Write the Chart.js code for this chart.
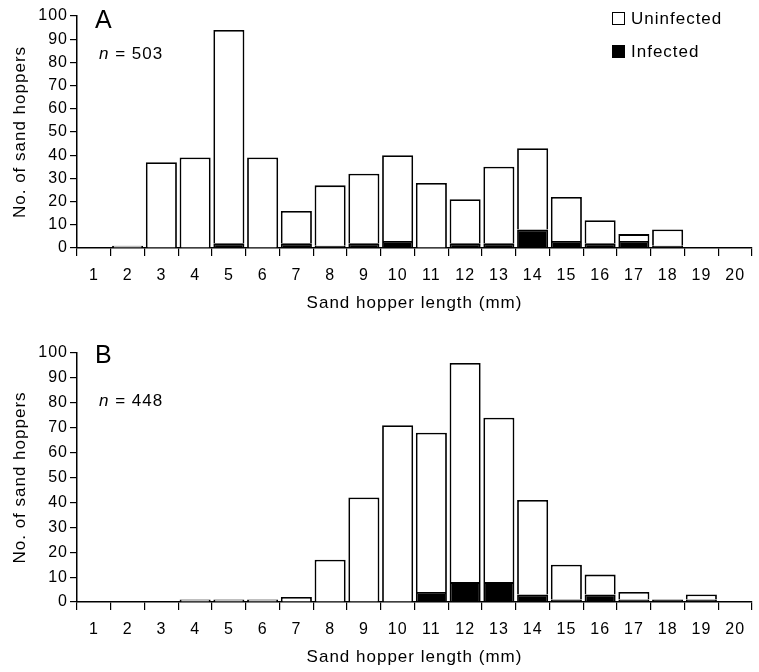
<!DOCTYPE html>
<html>
<head>
<meta charset="utf-8">
<script src="https://cdn.jsdelivr.net/npm/chart.js@4.4.1/dist/chart.umd.min.js"></script>
<style>
  html, body { margin: 0; padding: 0; background: #fff; }
  #wrap { position: relative; width: 759px; height: 672px; }
  .panel { position: absolute; left: 0; width: 759px; }
  #pa { top: 0; height: 325px; }
  #pb { top: 330px; height: 342px; }
</style>
</head>
<body>
<div id="wrap">
  <div class="panel" id="pa"><canvas id="chartA"></canvas></div>
  <div class="panel" id="pb"><canvas id="chartB"></canvas></div>
</div>
<script>
// ----- Data -----
const lengths = ['1','2','3','4','5','6','7','8','9','10','11','12','13','14','15','16','17','18','19','20'];

// Panel A: total per size class and infected part
const totalA    = [0, 1, 37, 39, 94, 39, 16, 27, 32, 40, 28, 21, 35, 43, 22, 12, 6, 8, 0, 0];
const infectedA = [0, 0,  0,  0,  2,  0,  2,  1,  2,  3,  0,  2,  2,  8,  3,  2, 3, 1, 0, 0];
const nA = 503;

// Panel B
const totalB    = [0, 0, 0, 1, 1, 1, 2, 17, 42, 71, 68, 96, 74, 41, 15, 11, 4, 1, 3, 0];
const infectedB = [0, 0, 0, 0, 0, 0, 0,  0,  0,  0,  4,  8,  8,  3,  1,  3, 1, 1, 1, 0];
const nB = 448;

const yMax = 100;
const yStep = 10;

const xTitle = 'Sand hopper length (mm)';
const yTitle = 'No. of sand hoppers';
const seriesNames = ['Infected', 'Uninfected'];

const FONT = "'Liberation Sans', Arial, Helvetica, sans-serif";
Chart.defaults.font.family = FONT;
Chart.defaults.color = '#000';

// spaced-out lettering like the printed figure
const spacing = {
  id: 'spacing',
  beforeLayout(chart) { chart.ctx.letterSpacing = '1px'; },
  beforeDraw(chart)   { chart.ctx.letterSpacing = '1px'; }
};

// panel letter, n = ..., and the legend box
const panelText = {
  id: 'panelText',
  afterDraw(chart, args, opts) {
    const ctx = chart.ctx;
    const a = chart.chartArea;
    ctx.save();
    ctx.fillStyle = '#000';
    ctx.textBaseline = 'alphabetic';
    ctx.textAlign = 'left';

    ctx.font = '25px ' + FONT;
    ctx.fillText(opts.letter, a.left + 18, a.top + opts.letterDy);

    ctx.font = 'italic 17px ' + FONT;
    const nx = a.left + 22, ny = a.top + opts.nDy;
    ctx.fillText('n', nx, ny);
    const w = ctx.measureText('n').width;
    ctx.font = '17px ' + FONT;
    ctx.fillText(' = ' + opts.n, nx + w, ny);

    if (opts.legend) {
      const ds = chart.data.datasets.slice().reverse();
      ctx.font = '17px ' + FONT;
      ctx.textBaseline = 'middle';
      ds.forEach((d, i) => {
        const y = 12 + i * 33;
        ctx.fillStyle = d.backgroundColor;
        ctx.fillRect(612, y, 13, 13);
        ctx.strokeStyle = '#000';
        ctx.lineWidth = 1;
        ctx.strokeRect(612.5, y + 0.5, 12, 12);
        ctx.fillStyle = '#000';
        ctx.fillText(d.label, 631, y + 7);
      });
    }
    ctx.restore();
  }
};

function makeChart(id, total, infected, cfg) {
  const uninfected = total.map((t, i) => t - infected[i]);
  return new Chart(document.getElementById(id), {
    type: 'bar',
    data: {
      labels: lengths,
      datasets: [
        {
          label: seriesNames[0],
          data: infected,
          backgroundColor: '#000',
          borderColor: '#000',
          borderWidth: 1.8,
          barPercentage: 0.92,
          categoryPercentage: 1
        },
        {
          label: seriesNames[1],
          data: uninfected,
          backgroundColor: '#fff',
          borderColor: '#000',
          borderWidth: 1.8,
          barPercentage: 0.92,
          categoryPercentage: 1
        }
      ]
    },
    options: {
      responsive: true,
      maintainAspectRatio: false,
      animation: false,
      devicePixelRatio: 1,
      layout: { padding: cfg.pad },
      plugins: {
        legend: { display: false },
        tooltip: { enabled: false },
        panelText: cfg.text
      },
      scales: {
        x: {
          stacked: true,
          grid: { offset: true, drawOnChartArea: false, color: '#000', tickLength: 8, lineWidth: 1.2 },
          border: { color: '#000', width: 1.5 },
          ticks: { font: { size: 16 }, padding: 10, maxRotation: 0, autoSkip: false },
          title: { display: true, text: xTitle, font: { size: 17 }, padding: cfg.xTitlePad },
          afterFit: s => { s.height = cfg.xHeight; }
        },
        y: {
          stacked: true,
          min: 0,
          max: yMax,
          ticks: { stepSize: yStep, font: { size: 16 }, padding: 2 },
          grid: { drawOnChartArea: false, color: '#000', tickLength: 7, lineWidth: 1.2 },
          border: { color: '#000', width: 1.5 },
          title: { display: true, text: yTitle, font: { size: 17 }, padding: { top: 10, bottom: 0 } },
          afterFit: s => { s.width = 77; }
        }
      }
    },
    plugins: [spacing, panelText]
  });
}

makeChart('chartA', totalA, infectedA, {
  pad: { top: 16, right: 7, bottom: 2, left: 0 },
  xHeight: 75,
  xTitlePad: { top: 0, bottom: 9 },
  text: { letter: 'A', n: nA, legend: true, letterDy: 12, nDy: 43 }
});

makeChart('chartB', totalB, infectedB, {
  pad: { top: 23, right: 7, bottom: 2, left: 0 },
  xHeight: 68,
  xTitlePad: { top: 0, bottom: 2 },
  text: { letter: 'B', n: nB, legend: false, letterDy: 10, nDy: 53 }
});
</script>
</body>
</html>
